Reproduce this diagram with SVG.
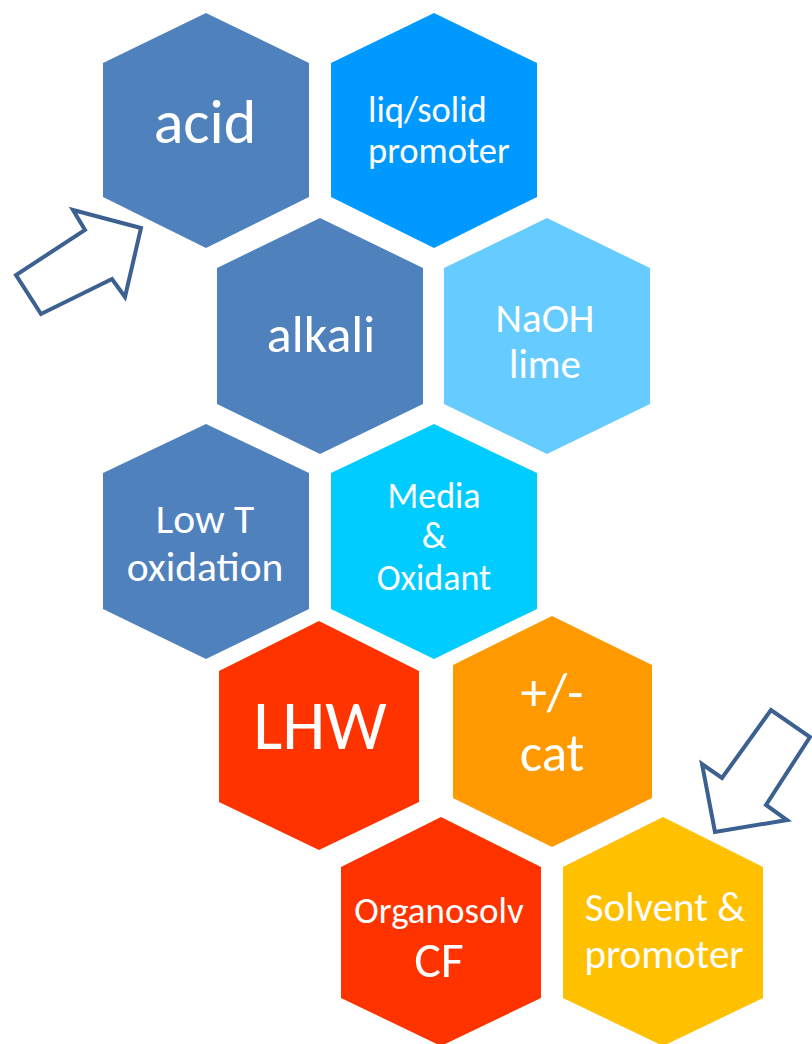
<svg xmlns="http://www.w3.org/2000/svg" width="812" height="1044" viewBox="0 0 812 1044">
<style>
text{font-family:Carlito,Lato,"Open Sans",sans-serif;fill:#ffffff;text-anchor:middle}
.arrow{fill:#ffffff;stroke:#3C6090;stroke-width:4;stroke-linejoin:miter}
</style>
<rect width="812" height="1044" fill="#ffffff"/>
<g id="acid">
<polygon points="206,13 309,63 309,197 206,248 103,197 103,63" fill="#4F81BD"/>
<text x="205" y="143" font-size="62">acid</text>
</g>
<g id="liq-solid-promoter">
<polygon points="434,13 537,63 537,197 434,248 331,197 331,63" fill="#0099FF"/>
<text x="368" y="122" font-size="36.5" style="text-anchor:start">liq/solid</text>
<text x="368" y="163" font-size="36.5" style="text-anchor:start">promoter</text>
</g>
<g id="alkali">
<polygon points="320,218 423,268 423,404 320,454 217,404 217,268" fill="#4F81BD"/>
<text x="321" y="352" font-size="52">alkali</text>
</g>
<g id="naoh-lime">
<polygon points="547,218 650,268 650,404 547,454 444,404 444,268" fill="#66CCFF"/>
<text x="545" y="332" font-size="41">NaOH</text>
<text x="545" y="378" font-size="41">lime</text>
</g>
<g id="low-t-oxidation">
<polygon points="206,424 309,473 309,609 206,659 103,609 103,473" fill="#4F81BD"/>
<text x="205" y="533" font-size="41.5">Low T</text>
<text x="205" y="581" font-size="41.5">oxidation</text>
</g>
<g id="media-oxidant">
<polygon points="434,424 537,473 537,609 434,659 331,609 331,473" fill="#00CCFF"/>
<text x="434" y="508" font-size="36">Media</text>
<text x="434" y="548" font-size="36">&amp;</text>
<text x="434" y="590" font-size="36">Oxidant</text>
</g>
<g id="lhw">
<polygon points="319,621 419,671 419,802 319,850 219,802 219,671" fill="#FF3300"/>
<text x="320" y="749" font-size="69">LHW</text>
</g>
<g id="cat">
<polygon points="552,616 652,665 652,798 552,847 453,798 453,665" fill="#FF9900"/>
<text x="552" y="710" font-size="53">+/-</text>
<text x="552" y="771" font-size="53">cat</text>
</g>
<g id="organosolv-cf">
<polygon points="441,817 541,867 541,998 441,1046 341,998 341,867" fill="#FF3300"/>
<text x="439" y="923" font-size="37">Organosolv</text>
<text x="439" y="977" font-size="50">CF</text>
</g>
<g id="solvent-promoter">
<polygon points="663,817 763,867 763,998 663,1046 563,998 563,867" fill="#FFC000"/>
<text x="665" y="921" font-size="41">Solvent &amp;</text>
<text x="664" y="968" font-size="41">promoter</text>
</g>
<g id="connectors">
<polygon class="arrow" points="141,228 73,210 85,230 16,275 41,314 112,279 125,297"/>
<polygon class="arrow" points="715,832 702,764 722,778 771,710 810,737 766,805 787,820"/>
</g>
</svg>
